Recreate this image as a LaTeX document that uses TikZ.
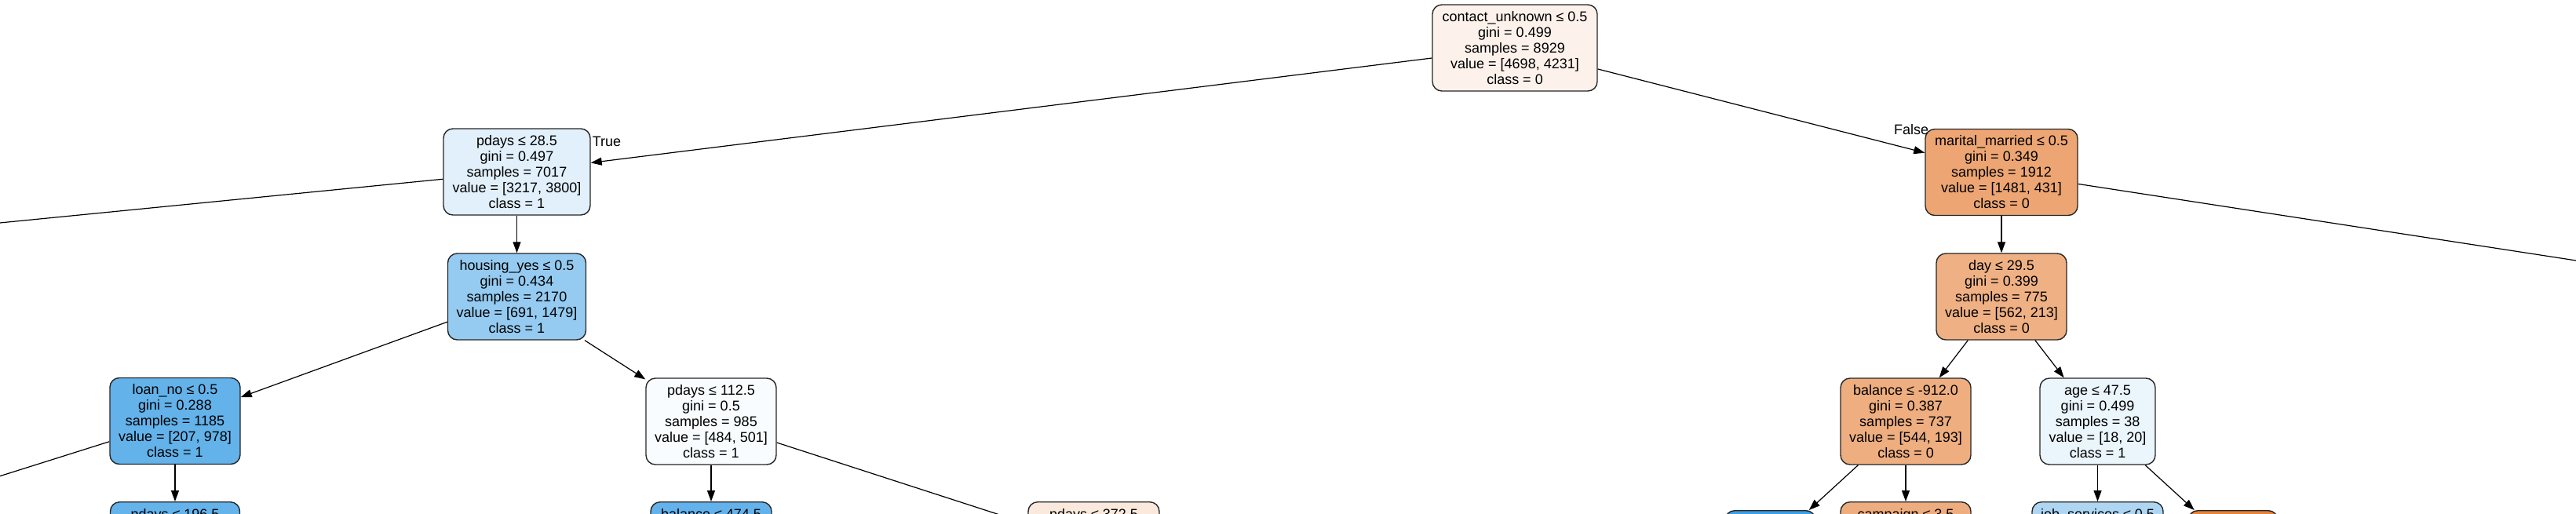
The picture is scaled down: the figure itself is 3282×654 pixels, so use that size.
\documentclass[tikz,border=0pt]{standalone}
\usepackage{fontspec}
\newfontfamily\gvfont{Liberation Sans}
\usetikzlibrary{arrows.meta}
\definecolor{cRoot}{RGB}{252,242,235}
\definecolor{cPdA}{RGB}{225,240,251}
\definecolor{cHouse}{RGB}{149,203,241}
\definecolor{cLoan}{RGB}{99,178,234}
\definecolor{cPdB}{RGB}{248,252,254}
\definecolor{cMar}{RGB}{237,166,115}
\definecolor{cDay}{RGB}{239,177,132}
\definecolor{cBalA}{RGB}{238,174,127}
\definecolor{cAge}{RGB}{235,245,252}
\definecolor{cPdC}{RGB}{101,179,235}
\definecolor{cBalB}{RGB}{100,178,235}
\definecolor{cPdD}{RGB}{251,233,221}
\definecolor{cLeafB}{RGB}{60,158,229}
\definecolor{cCamp}{RGB}{238,173,127}
\definecolor{cJob}{RGB}{174,214,243}
\definecolor{cLeafO}{RGB}{229,130,58}
\begin{document}
\begin{tikzpicture}[x=1pt,y=-1pt,
  gv/.style={font=\gvfont\fontsize{18pt}{20pt}\selectfont},
  tnode/.style={gv, draw=black!85, line width=1.4pt, rounded corners=12pt, align=center, inner sep=0pt, minimum height=110pt},
  pnode/.style={gv, draw=black!85, line width=1.4pt, rounded corners=12pt, inner xsep=0pt, inner ysep=9pt, anchor=north, text height=13pt, text depth=79pt},
  lnode/.style={draw=black!85, line width=1.4pt, rounded corners=12pt, inner sep=0pt, anchor=north, minimum height=89pt},
  arr/.style={-{Triangle[length=14pt,width=10pt]}, line width=1.2pt},
  ln/.style={line width=1.2pt},
  lbl/.style={gv, inner sep=0pt}]
\useasboundingbox (0,0) rectangle (3282,654);
\clip (0,0) rectangle (3282,654);
\fill[white] (0,0) rectangle (3282,654);
% decision nodes
\node[tnode, fill=cRoot, minimum width=210pt] (root) at (1930,61) {contact\_unknown ≤ 0.5\\gini = 0.499\\samples = 8929\\value = [4698, 4231]\\class = 0};
\node[tnode, fill=cPdA, minimum width=187pt] (pdA) at (658.5,219) {pdays ≤ 28.5\\gini = 0.497\\samples = 7017\\value = [3217, 3800]\\class = 1};
\node[tnode, fill=cHouse, minimum width=176pt] (house) at (658.5,378) {housing\_yes ≤ 0.5\\gini = 0.434\\samples = 2170\\value = [691, 1479]\\class = 1};
\node[tnode, fill=cLoan, minimum width=166pt] (loan) at (223,536.5) {loan\_no ≤ 0.5\\gini = 0.288\\samples = 1185\\value = [207, 978]\\class = 1};
\node[tnode, fill=cPdB, minimum width=166pt] (pdB) at (906,537) {pdays ≤ 112.5\\gini = 0.5\\samples = 985\\value = [484, 501]\\class = 1};
\node[tnode, fill=cMar, minimum width=194pt] (mar) at (2550,219.5) {marital\_married ≤ 0.5\\gini = 0.349\\samples = 1912\\value = [1481, 431]\\class = 0};
\node[tnode, fill=cDay, minimum width=166pt] (day) at (2550,378) {day ≤ 29.5\\gini = 0.399\\samples = 775\\value = [562, 213]\\class = 0};
\node[tnode, fill=cBalA, minimum width=166pt] (balA) at (2428,537) {balance ≤ -912.0\\gini = 0.387\\samples = 737\\value = [544, 193]\\class = 0};
\node[tnode, fill=cAge, minimum width=147pt] (age) at (2672.5,537) {age ≤ 47.5\\gini = 0.499\\samples = 38\\value = [18, 20]\\class = 1};
% partially visible nodes at the bottom edge
\node[pnode, fill=cPdC, minimum width=165pt] (pdC) at (223,639) {pdays ≤ 196.5};
\node[pnode, fill=cBalB, minimum width=154pt] (balB) at (906,639) {balance ≤ 474.5};
\node[pnode, fill=cPdD, minimum width=167pt] (pdD) at (1393.5,639) {pdays ≤ 372.5};
\node[lnode, fill=cLeafB, minimum width=115pt] (leafB) at (2255.5,650) {};
\node[pnode, fill=cCamp, minimum width=166pt] (camp) at (2428,639) {campaign ≤ 3.5};
\node[pnode, fill=cJob, minimum width=167pt] (job) at (2672.5,639) {job\_services ≤ 0.5};
\node[lnode, fill=cLeafO, minimum width=114pt] (leafO) at (2845,650) {};
% off-picture ends
\coordinate (offA) at (-300,313.6);
\coordinate (offB) at (-100,638.2);
\coordinate (offC) at (3600,380.9);
% edges
\draw[arr] (root) -- (pdA);
\draw[arr] (root) -- (mar);
\draw[ln] (pdA) -- (offA);
\draw[arr] (pdA) -- (house);
\draw[arr] (house) -- (loan);
\draw[arr] (house) -- (pdB);
\draw[ln] (loan) -- (offB);
\draw[arr] (loan) -- (pdC);
\draw[arr] (pdB) -- (balB);
\draw[arr] (pdB) -- (pdD);
\draw[ln] (mar) -- (offC);
\draw[arr] (mar) -- (day);
\draw[arr] (day) -- (balA);
\draw[arr] (day) -- (age);
\draw[arr] (balA) -- (leafB);
\draw[arr] (balA) -- (camp);
\draw[arr] (age) -- (job);
\draw[arr] (age) -- (leafO);
% edge labels
\node[lbl] (tlab) at (773,180) {True};
\node[lbl] (flab) at (2435,165) {False};
\end{tikzpicture}
\end{document}
